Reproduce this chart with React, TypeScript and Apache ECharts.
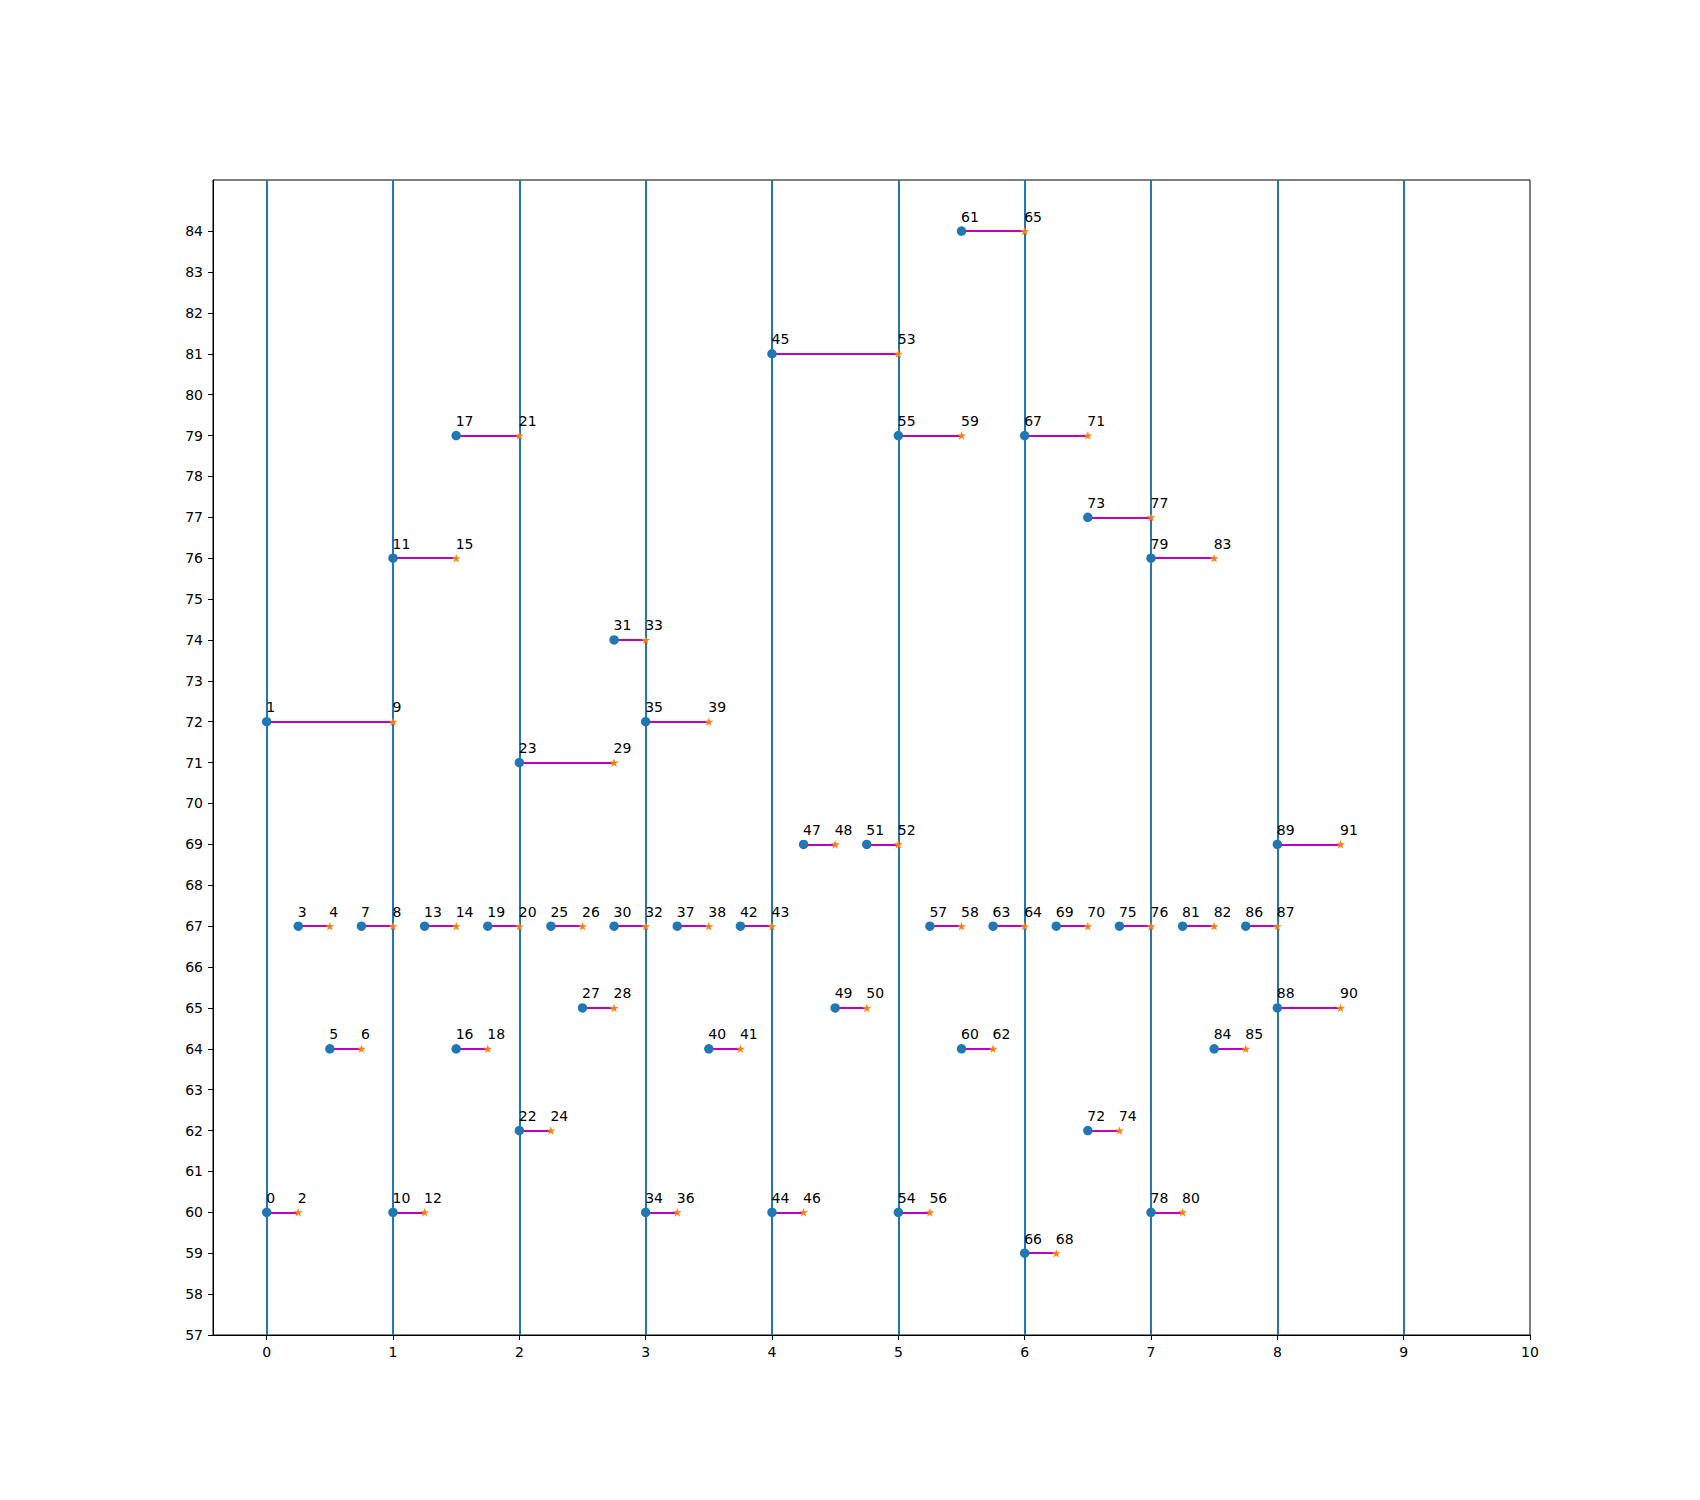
import React, { useEffect, useRef } from "react";
import * as echarts from "echarts";

// Pairs: start point (circle) -> end point (star), on one row y
const startIds = [0, 1, 3, 5, 7, 10, 11, 13, 16, 17, 19, 22, 23, 25, 27, 30, 31, 34, 35, 37, 40, 42, 44, 45, 47, 49, 51, 54, 55, 57, 60, 61, 63, 66, 67, 69, 72, 73, 75, 78, 79, 81, 84, 86, 88, 89];
const startX = [0, 0, 0.25, 0.5, 0.75, 1, 1, 1.25, 1.5, 1.5, 1.75, 2, 2, 2.25, 2.5, 2.75, 2.75, 3, 3, 3.25, 3.5, 3.75, 4, 4, 4.25, 4.5, 4.75, 5, 5, 5.25, 5.5, 5.5, 5.75, 6, 6, 6.25, 6.5, 6.5, 6.75, 7, 7, 7.25, 7.5, 7.75, 8, 8];
const endIds = [2, 9, 4, 6, 8, 12, 15, 14, 18, 21, 20, 24, 29, 26, 28, 32, 33, 36, 39, 38, 41, 43, 46, 53, 48, 50, 52, 56, 59, 58, 62, 65, 64, 68, 71, 70, 74, 77, 76, 80, 83, 82, 85, 87, 90, 91];
const endX = [0.25, 1, 0.5, 0.75, 1, 1.25, 1.5, 1.5, 1.75, 2, 2, 2.25, 2.75, 2.5, 2.75, 3, 3, 3.25, 3.5, 3.5, 3.75, 4, 4.25, 5, 4.5, 4.75, 5, 5.25, 5.5, 5.5, 5.75, 6, 6, 6.25, 6.5, 6.5, 6.75, 7, 7, 7.25, 7.5, 7.5, 7.75, 8, 8.5, 8.5];
const rowY = [60, 72, 67, 64, 67, 60, 76, 67, 64, 79, 67, 62, 71, 67, 65, 67, 74, 60, 72, 67, 64, 67, 60, 81, 69, 65, 69, 60, 79, 67, 64, 84, 67, 59, 79, 67, 62, 77, 67, 60, 76, 67, 64, 67, 65, 69];

// Vertical reference lines
const verticalX = [0, 1, 2, 3, 4, 5, 6, 7, 8, 9];

// Tick labels
const xTicks = [0, 1, 2, 3, 4, 5, 6, 7, 8, 9, 10];
const yTicks = [57, 58, 59, 60, 61, 62, 63, 64, 65, 66, 67, 68, 69, 70, 71, 72, 73, 74, 75, 76, 77, 78, 79, 80, 81, 82, 83, 84];

const FONT = "DejaVu Sans";

function starSymbol(): string {
  let d = "";
  for (let k = 0; k < 10; k++) {
    const r = k % 2 ? 0.381966 : 1;
    const a = ((-90 + 36 * k) * Math.PI) / 180;
    d += (k ? "L" : "M") + (r * Math.cos(a)).toFixed(4) + " " + (r * Math.sin(a)).toFixed(4) + " ";
  }
  return "path://" + d + "Z";
}

export default function App() {
  const ref = useRef<HTMLDivElement>(null);
  useEffect(() => {
    if (!ref.current) return;
    const chart = echarts.init(ref.current, null, { renderer: "svg" });
    const circleSize = 9.5;
    const starW = 9;
    const starH = 8.6;
    const labelBase = {
      show: true,
      align: "left",
      verticalAlign: "bottom",
      fontSize: 14,
      fontFamily: FONT,
      color: "#000",
      textBorderWidth: 0,
    };
    const axisCommon = {
      type: "value",
      splitLine: { show: false },
      axisLine: { show: true, onZero: false, lineStyle: { color: "#000", width: 1 } },
      axisTick: { show: true, length: 5, lineStyle: { color: "#000", width: 1 } },
    };
    chart.setOption({
      animation: false,
      backgroundColor: "#fff",
      grid: {
        left: 213,
        right: 170,
        top: 180,
        bottom: 165,
        show: true,
        borderColor: "#000",
        borderWidth: 1,
        backgroundColor: "transparent",
      },
      xAxis: {
        ...axisCommon,
        min: -0.425,
        max: 10,
        axisTick: { ...axisCommon.axisTick, customValues: xTicks },
        axisLabel: {
          customValues: xTicks,
          margin: 10,
          fontSize: 14,
          fontFamily: FONT,
          color: "#000",
        },
      },
      yAxis: {
        ...axisCommon,
        min: 57,
        max: 85.25,
        axisTick: { ...axisCommon.axisTick, customValues: yTicks },
        axisLabel: {
          customValues: yTicks,
          margin: 10,
          fontSize: 14,
          fontFamily: FONT,
          color: "#000",
        },
      },
      series: [
        {
          type: "lines",
          coordinateSystem: "cartesian2d",
          z: 2,
          silent: true,
          lineStyle: { color: "#bf00bf", width: 2, opacity: 1 },
          data: rowY.map((y, i) => ({ coords: [[startX[i], y], [endX[i], y]] })),
          markLine: {
            silent: true,
            symbol: ["none", "none"],
            label: { show: false },
            lineStyle: { color: "#1f77b4", width: 2, type: "solid" },
            data: verticalX.map((x) => ({ xAxis: x })),
            z: 1,
          },
        },
        {
          type: "scatter",
          z: 3,
          symbol: "circle",
          symbolSize: circleSize,
          itemStyle: { color: "#1f77b4", opacity: 1 },
          data: rowY.map((y, i) => [startX[i], y, startIds[i]]),
          label: {
            ...labelBase,
            position: [circleSize / 2 - 0.5, circleSize / 2 - 7.5],
            formatter: (p: any) => String(p.data[2]),
          },
        },
        {
          type: "scatter",
          z: 4,
          symbol: starSymbol(),
          symbolSize: [starW, starH],
          itemStyle: { color: "#ff7f0e", opacity: 1 },
          data: rowY.map((y, i) => [endX[i], y, endIds[i]]),
          label: {
            ...labelBase,
            position: [starW / 2 - 0.5, starH / 2 - 7.5],
            formatter: (p: any) => String(p.data[2]),
          },
        },
      ],
    });
    return () => chart.dispose();
  }, []);
  return (
    <div
      ref={ref}
      style={{ position: "absolute", left: 0, top: 0, width: 1700, height: 1500 }}
    />
  );
}
